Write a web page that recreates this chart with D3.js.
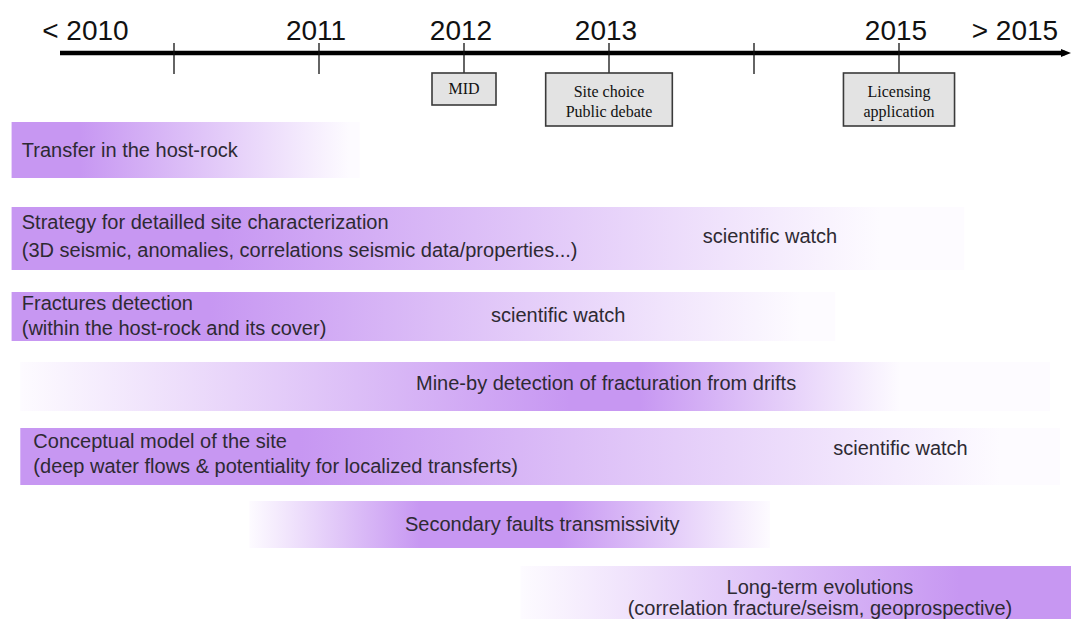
<!DOCTYPE html>
<html><head><meta charset="utf-8">
<script src="https://cdn.jsdelivr.net/npm/d3@7"></script>
<style>html,body{margin:0;padding:0;background:#fff;overflow:hidden}svg{display:block}</style>
</head><body><svg id="c" width="1071" height="619"></svg>
<script>
// ---------------- data ----------------
const yearTicks = [2010, 2011, 2012, 2013, 2014, 2015];
const yearLabels = ["< 2010", "2011", "2012", "2013", "2015", "> 2015"];
const yearLabelAt = [2009.41, 2011, 2012, 2013, 2015, 2015.82];

const milestones = ["MID", "Site choice\nPublic debate", "Licensing\napplication"];
const milestoneYear = [2012, 2013, 2015];

const tasks = [
  "Transfer in the host-rock",
  "Strategy for detailled site characterization\n(3D seismic, anomalies, correlations seismic data/properties...)",
  "Fractures detection\n(within the host-rock and its cover)",
  "Mine-by detection of fracturation from drifts",
  "Conceptual model of the site\n(deep water flows & potentiality for localized transferts)",
  "Secondary faults transmissivity",
  "Long-term evolutions\n(correlation fracture/seism, geoprospective)"
];
// periods in years (colour starts, fully saturated from/to, fades out, faint end)
const taskStart    = [2008.88, 2008.88, 2008.88, 2008.94, 2008.94, 2010.52, 2012.39];
const taskFullFrom = [2008.88, 2008.88, 2008.88, 2012.73, 2008.94, 2011.70, 2015.42];
const taskFullTo   = [2009.35, 2010.30, 2010.25, 2013.21, 2010.87, 2012.66, 2016.19];
const taskFadeEnd  = [2011.21, 2014.87, 2014.32, 2015.01, 2015.70, 2014.11, 2016.19];
const taskEnd      = [2011.28, 2015.45, 2014.56, 2016.04, 2016.11, 2014.11, 2016.19];
const taskLabelAt  = [2008.95, 2008.95, 2008.95, 2012.98, 2009.03, 2012.54, 2014.455];
const watchLabel   = "scientific watch";
const watchAt      = [null, 2014.11, 2012.65, null, 2015.01, null, null];

// ---------------- layout ----------------
const W = 1071, H = 619;
const svg = d3.select("#c");
const x = d3.scaleLinear().domain([2010, 2015]).range([174, 899]);
const axisY = 53;
const purple = "#c797f2";
const textCol = "#2e2a33";
const sans = "'Liberation Sans', Arial, sans-serif";
const serif = "'Liberation Serif', 'Times New Roman', serif";
const fs = 20;

const rowTop    = [122, 207, 292, 362, 428, 501, 566];
const rowBottom = [178, 270, 341, 411, 485, 548, 622];
const rowBase   = [[157], [229, 257], [310, 335], [390], [448, 473], [531], [594, 615]];
const rowAnchor = ["start", "start", "start", "middle", "start", "middle", "middle"];
const watchBase = [null, 243, 322, null, 455, null, null];

const defs = svg.append("defs");

// ---------------- bars ----------------
const rows = tasks.map((t, i) => ({i, t}));
rows.forEach(({i}) => {
  const g = defs.append("linearGradient").attr("id", "g" + i)
    .attr("gradientUnits", "userSpaceOnUse")
    .attr("x1", x(taskStart[i])).attr("x2", x(taskEnd[i]) + 0.01)
    .attr("y1", 0).attr("y2", 0);
  const span = x(taskEnd[i]) + 0.01 - x(taskStart[i]);
  const off = v => Math.max(0, Math.min(1, (x(v) - x(taskStart[i])) / span));
  const stops = [
    [taskStart[i], taskFullFrom[i] <= taskStart[i] ? 1 : 0],
    [taskFullFrom[i], 1],
    [taskFullTo[i], 1],
    [taskFadeEnd[i], 0],
    [taskEnd[i], 0]
  ];
  stops.forEach(([v, o]) => g.append("stop").attr("offset", off(v))
    .attr("stop-color", purple).attr("stop-opacity", o));
});

const bars = svg.append("g");
bars.selectAll("rect.base").data(rows).join("rect").attr("class", "base")
  .attr("x", d => x(taskStart[d.i])).attr("width", d => x(taskEnd[d.i]) - x(taskStart[d.i]))
  .attr("y", d => rowTop[d.i]).attr("height", d => rowBottom[d.i] - rowTop[d.i])
  .attr("fill", "#fdfbff");
bars.selectAll("rect.grad").data(rows).join("rect").attr("class", "grad")
  .attr("x", d => x(taskStart[d.i])).attr("width", d => x(taskEnd[d.i]) - x(taskStart[d.i]))
  .attr("y", d => rowTop[d.i]).attr("height", d => rowBottom[d.i] - rowTop[d.i])
  .attr("fill", d => `url(#g${d.i})`);

// task labels
rows.forEach(({i, t}) => {
  const lines = t.split("\n");
  const tx = svg.append("text").attr("font-family", sans).attr("font-size", fs)
    .attr("fill", textCol).attr("text-anchor", rowAnchor[i]);
  lines.forEach((ln, k) => tx.append("tspan").attr("x", x(taskLabelAt[i])).attr("y", rowBase[i][k]).text(ln));
  if (watchAt[i] != null) {
    svg.append("text").attr("font-family", sans).attr("font-size", fs).attr("fill", textCol)
      .attr("text-anchor", "middle").attr("x", x(watchAt[i])).attr("y", watchBase[i]).text(watchLabel);
  }
});

// ---------------- time axis ----------------
svg.append("line").attr("x1", 60).attr("x2", W - 6).attr("y1", axisY).attr("y2", axisY)
  .attr("stroke", "#000").attr("stroke-width", 4.5);
svg.append("path").attr("d", `M${W - 10},${axisY - 4} L${W},${axisY} L${W - 10},${axisY + 4} Z`).attr("fill", "#000");

svg.selectAll("line.tick").data(yearTicks).join("line").attr("class", "tick")
  .attr("x1", d => x(d)).attr("x2", d => x(d)).attr("y1", 43).attr("y2", 74)
  .attr("stroke", "#111").attr("stroke-width", 1.3);

svg.selectAll("text.yl").data(yearLabels).join("text").attr("class", "yl")
  .attr("x", (d, i) => x(yearLabelAt[i]) - 3).attr("y", 40)
  .attr("text-anchor", "middle").attr("font-family", sans).attr("font-size", 28).attr("fill", "#111")
  .text(d => d);

// milestone boxes
milestones.forEach((m, i) => {
  const lines = m.split("\n");
  const g = svg.append("g");
  const t = g.append("text").attr("font-family", serif).attr("font-size", 16).attr("fill", "#111")
    .attr("text-anchor", "middle");
  lines.forEach((ln, k) => t.append("tspan").attr("x", x(milestoneYear[i])).attr("y", 73 + 24 + k * 20).text(ln));
  const bw = t.node().getBBox().width;
  const w = Math.max(64, bw + (lines.length > 1 ? 40 : 28));
  const h = lines.length > 1 ? 53 : 32;
  if (lines.length === 1) t.select("tspan").attr("y", 73 + 21);
  g.insert("rect", "text").attr("x", x(milestoneYear[i]) - w / 2).attr("y", 73).attr("width", w).attr("height", h)
    .attr("fill", "#e3e3e3").attr("stroke", "#3a3a3a").attr("stroke-width", 1.6);
});
</script></body></html>
